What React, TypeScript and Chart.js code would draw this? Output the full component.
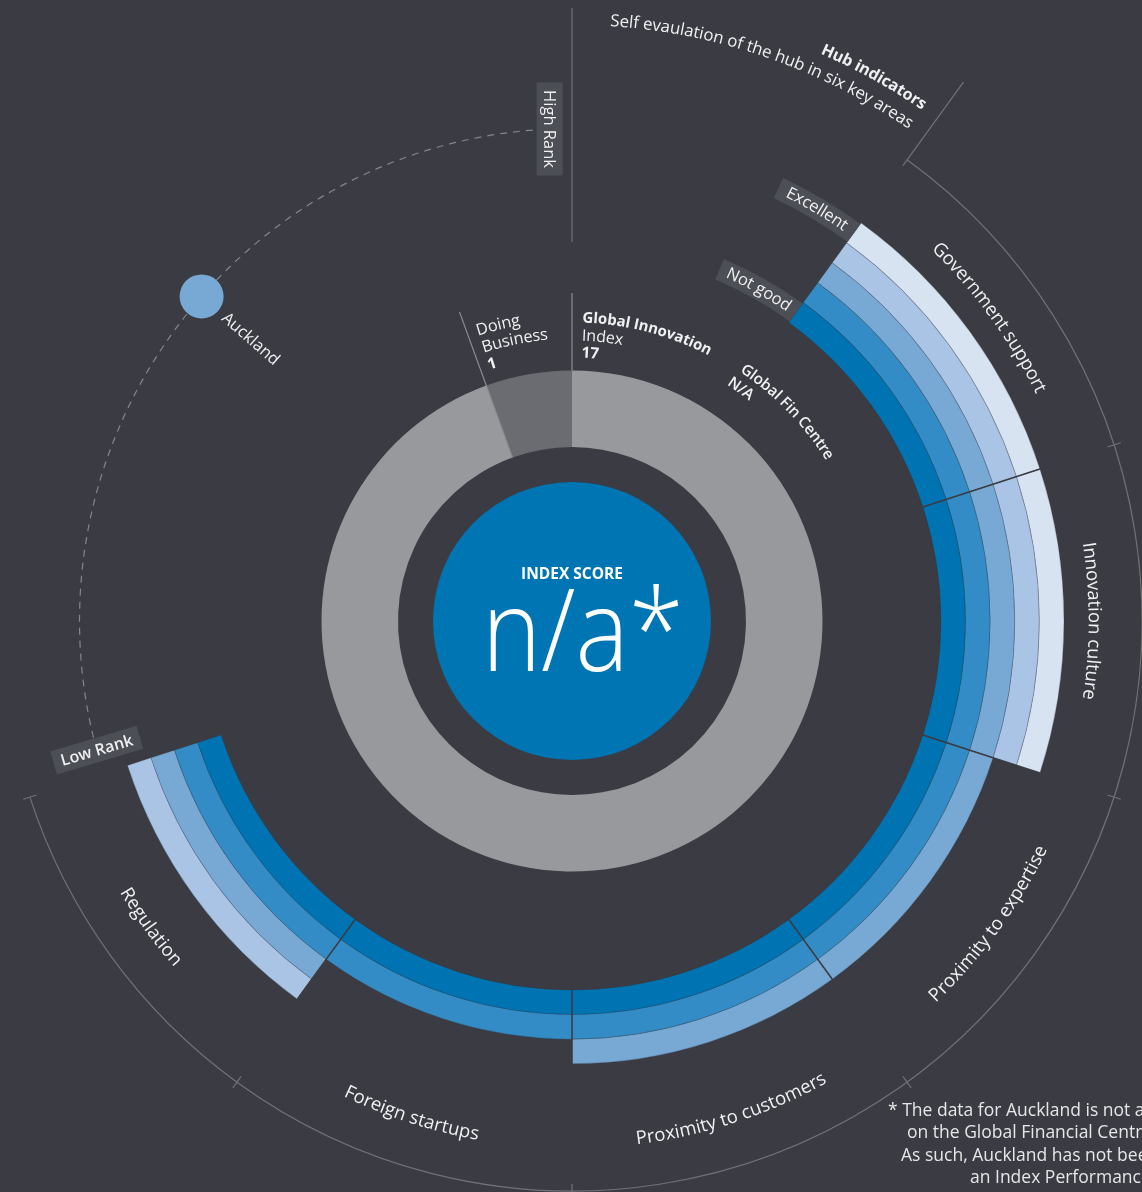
import { useEffect, useRef } from 'react';
import { Chart, registerables } from 'chart.js';
Chart.register(...registerables);

// ---------------- data ----------------
const hubIndicators = [
  'Government support',
  'Innovation culture',
  'Proximity to expertise',
  'Proximity to customers',
  'Foreign startups',
  'Regulation',
];
const hubRatings = [5, 5, 3, 3, 2, 4]; // 1 = Not good ... 5 = Excellent
const ratingScaleLabels = ['Not good', 'Excellent'];
const rankingRingSpans = [340, 20]; // Global Innovation Index arc, Doing Business arc (deg)
const giiLabel = ['Global Innovation', 'Index'];
const giiValue = '17';
const doingBusinessLabel = ['Doing', 'Business'];
const doingBusinessValue = '1';
const finCentreLabel = 'Global Fin Centre';
const finCentreValue = 'N/A';
const indexScoreTitle = 'INDEX SCORE';
const indexScore = 'n/a*';
const cityName = 'Auckland';
const cityRankPosition = 0.55; // 0 = low rank, 1 = high rank
const rankScaleLabels = ['Low Rank', 'High Rank'];
const hubTitle = 'Hub indicators';
const hubSubtitle = 'Self evaulation of the hub in six key areas';
const footnoteLines = [
  '* The data for Auckland is not available',
  'on the Global Financial Centres Index.',
  'As such, Auckland has not been given',
  'an Index Performance score.',
];

// ---------------- style ----------------
const BG = '#3b3c43';
const FONT = '"Open Sans", "Noto Sans", sans-serif';
const bandColors = ['#0074b3', '#338cc5', '#78a9d4', '#a9c4e4', '#d8e3f2'];
const greyColors = ['#98999d', '#6a6c71'];
const TEXT = '#f0f0f2';
const BOX = '#4d4f56';
const LINE = '#717278';
const D2R = Math.PI / 180;

function polar(cx: number, cy: number, r: number, deg: number): [number, number] {
  return [cx + r * Math.sin(deg * D2R), cy - r * Math.cos(deg * D2R)];
}
const toDeg = (rad: number) => rad / D2R + 90;

function arcText(
  ctx: CanvasRenderingContext2D, text: string, cx: number, cy: number, r: number, deg: number,
  o: { cw: boolean; align: 'center' | 'start' | 'end'; font: string; color?: string; spacing?: number }
) {
  ctx.save();
  ctx.font = o.font;
  ctx.fillStyle = o.color || TEXT;
  ctx.textAlign = 'center';
  ctx.textBaseline = 'middle';
  const chars = [...text];
  const sp = o.spacing || 0;
  const widths = chars.map((c) => ctx.measureText(c).width + sp);
  const total = widths.reduce((a, b) => a + b, 0);
  const totalDeg = total / r / D2R;
  const dir = o.cw ? 1 : -1;
  let start = deg;
  if (o.align === 'center') start = deg - (dir * totalDeg) / 2;
  else if (o.align === 'end') start = deg - dir * totalDeg;
  let acc = 0;
  chars.forEach((c, i) => {
    const a = start + (dir * (acc + widths[i] / 2)) / r / D2R;
    const [x, y] = polar(cx, cy, r, a);
    ctx.save();
    ctx.translate(x, y);
    ctx.rotate((o.cw ? a : a - 180) * D2R);
    ctx.fillText(c, 0, 0);
    ctx.restore();
    acc += widths[i];
  });
  ctx.restore();
}

function rotBox(ctx: CanvasRenderingContext2D, x: number, y: number, len: number, thick: number, rot: number, text: string, font: string) {
  ctx.save();
  ctx.translate(x, y);
  ctx.rotate(rot * D2R);
  ctx.fillStyle = BOX;
  ctx.fillRect(-len / 2, -thick / 2, len, thick);
  ctx.fillStyle = TEXT;
  ctx.font = font;
  ctx.textAlign = 'center';
  ctx.textBaseline = 'middle';
  ctx.fillText(text, 0, 1);
  ctx.restore();
}

const overlay = {
  id: 'overlay',
  afterDatasetsDraw(chart: any) {
    const ctx: CanvasRenderingContext2D = chart.ctx;
    const outerArcs = chart.getDatasetMeta(0).data as any[];
    const innerArcs = chart.getDatasetMeta(4).data as any[];
    const greyArcs = chart.getDatasetMeta(6).data as any[];
    const cx = outerArcs[0].x;
    const cy = outerArcs[0].y;
    const bandOut = outerArcs[0].outerRadius;
    const bandIn = innerArcs[0].innerRadius;
    const bw = (bandOut - bandIn) / 5;
    const greyOut = greyArcs[0].outerRadius;
    const greyIn = greyArcs[0].innerRadius;

    // segment separators
    ctx.save();
    ctx.strokeStyle = BG;
    ctx.lineWidth = 1.5;
    for (let j = 1; j < hubIndicators.length; j++) {
      const a = outerArcs[j].startAngle;
      const lv = Math.max(hubRatings[j - 1], hubRatings[j]);
      ctx.beginPath();
      ctx.moveTo(cx + bandIn * Math.cos(a), cy + bandIn * Math.sin(a));
      ctx.lineTo(cx + (bandIn + bw * lv) * Math.cos(a), cy + (bandIn + bw * lv) * Math.sin(a));
      ctx.stroke();
    }
    ctx.restore();

    // outer bracket arc with ticks
    const R = 570;
    const a0 = outerArcs[0].startAngle;
    const a1 = outerArcs[outerArcs.length - 1].endAngle;
    ctx.save();
    ctx.strokeStyle = LINE;
    ctx.lineWidth = 1.2;
    ctx.beginPath();
    ctx.arc(cx, cy, R, a0, a1);
    ctx.stroke();
    const tickAngles = outerArcs.map((e) => e.startAngle).concat([a1]);
    tickAngles.forEach((a, i) => {
      const rIn = R - 7;
      const rOut = i === 0 ? 666 : R + 7;
      ctx.beginPath();
      ctx.moveTo(cx + rIn * Math.cos(a), cy + rIn * Math.sin(a));
      ctx.lineTo(cx + rOut * Math.cos(a), cy + rOut * Math.sin(a));
      ctx.stroke();
    });
    // top vertical line
    ctx.beginPath();
    ctx.moveTo(cx, cy - 613);
    ctx.lineTo(cx, cy - 379);
    ctx.stroke();
    // ranking ring dividers
    ctx.strokeStyle = '#8c8d92';
    ctx.lineWidth = 1.2;
    ctx.beginPath();
    ctx.moveTo(cx, cy - greyOut);
    ctx.lineTo(cx, cy - 328);
    ctx.stroke();
    const dbDeg = toDeg(greyArcs[1].startAngle);
    const [dx0, dy0] = polar(cx, cy, greyIn, dbDeg);
    const [dx1, dy1] = polar(cx, cy, 329, dbDeg);
    ctx.beginPath();
    ctx.moveTo(dx0, dy0);
    ctx.lineTo(dx1, dy1);
    ctx.stroke();
    ctx.restore();

    // hub category labels
    outerArcs.forEach((e, i) => {
      const mid = toDeg((e.startAngle + e.endAngle) / 2);
      const cw = mid < 100;
      arcText(ctx, hubIndicators[i], cx, cy, 522, mid, { cw, align: 'center', font: `400 18.5px ${FONT}` });
    });

    // hub title
    const segStart = toDeg(a0);
    arcText(ctx, hubSubtitle, cx, cy, 601, segStart - 1.6, { cw: true, align: 'end', font: `400 16.8px ${FONT}` });
    arcText(ctx, hubTitle, cx, cy, 624, segStart - 1.6, { cw: true, align: 'end', font: `700 16px ${FONT}` });

    // Not good / Excellent boxes
    const scaleLevels = [1, 5];
    scaleLevels.forEach((lv, k) => {
      const rm = bandIn + bw * (lv - 0.5);
      const L = 88;
      const spanDeg = L / rm / D2R;
      const aEnd = a0;
      const aStart = a0 - spanDeg * D2R;
      ctx.save();
      ctx.fillStyle = BOX;
      ctx.beginPath();
      ctx.arc(cx, cy, rm + 11, aStart, aEnd);
      ctx.arc(cx, cy, rm - 11, aEnd, aStart, true);
      ctx.closePath();
      ctx.fill();
      ctx.restore();
      arcText(ctx, ratingScaleLabels[k], cx, cy, rm, toDeg(a0) - spanDeg / 2, { cw: true, align: 'center', font: `400 16.5px ${FONT}` });
    });

    // ranking ring labels
    const gStart = toDeg(greyArcs[0].startAngle) + 2;
    arcText(ctx, giiLabel[0], cx, cy, 303, gStart, { cw: true, align: 'start', font: `700 15px ${FONT}` });
    arcText(ctx, giiLabel[1], cx, cy, 285, gStart, { cw: true, align: 'start', font: `400 16px ${FONT}` });
    arcText(ctx, giiValue, cx, cy, 268, gStart, { cw: true, align: 'start', font: `700 15.5px ${FONT}` });
    const dStart = dbDeg + 1.8;
    arcText(ctx, doingBusinessLabel[0], cx, cy, 305, dStart, { cw: true, align: 'start', font: `400 16.3px ${FONT}` });
    arcText(ctx, doingBusinessLabel[1], cx, cy, 287, dStart, { cw: true, align: 'start', font: `400 16.3px ${FONT}` });
    arcText(ctx, doingBusinessValue, cx, cy, 269, dStart, { cw: true, align: 'start', font: `700 15.5px ${FONT}` });
    arcText(ctx, finCentreLabel, cx, cy, 305, 33.9, { cw: true, align: 'start', font: `600 15.3px ${FONT}` });
    arcText(ctx, finCentreValue, cx, cy, 287, 33.2, { cw: true, align: 'start', font: `600 15.3px ${FONT}` });

    // rank scale (dashed)
    const RR = 492.5;
    const lowDeg = 254.8;
    const highDeg = 357.4;
    ctx.save();
    ctx.strokeStyle = '#85868c';
    ctx.lineWidth = 1.2;
    ctx.setLineDash([7, 6]);
    ctx.beginPath();
    ctx.arc(cx, cy, RR, (lowDeg - 90) * D2R, (highDeg - 90) * D2R);
    ctx.stroke();
    ctx.restore();
    const [hx, hy] = polar(cx, cy, RR, highDeg);
    rotBox(ctx, hx, hy, 93, 26, 90, rankScaleLabels[1], `400 16.5px ${FONT}`);
    const [lx, ly] = polar(cx, cy, RR, lowDeg);
    rotBox(ctx, lx, ly, 90, 24, -16.5, rankScaleLabels[0], `600 16px ${FONT}`);

    const cityDeg = lowDeg + cityRankPosition * (highDeg - lowDeg);
    const [px, py] = polar(cx, cy, RR, cityDeg);
    ctx.save();
    ctx.fillStyle = '#78a9d4';
    ctx.beginPath();
    ctx.arc(px, py, 22, 0, Math.PI * 2);
    ctx.fill();
    const [tx, ty] = polar(cx, cy, 463, cityDeg);
    ctx.translate(tx, ty);
    ctx.rotate((cityDeg - 270) * D2R);
    ctx.fillStyle = TEXT;
    ctx.font = `400 16.5px ${FONT}`;
    ctx.textAlign = 'left';
    ctx.textBaseline = 'middle';
    ctx.fillText(cityName, 0, 0);
    ctx.restore();

    // centre score
    ctx.save();
    ctx.fillStyle = '#ffffff';
    ctx.textAlign = 'center';
    ctx.textBaseline = 'middle';
    ctx.font = `700 15.5px ${FONT}`;
    ctx.fillText(indexScoreTitle, cx, cy - 46);
    ctx.textBaseline = 'alphabetic';
    ctx.font = `300 114px ${FONT}`;
    ctx.translate(cx + 11, cy + 50);
    ctx.scale(0.88, 1);
    ctx.fillText(indexScore, 0, 0);
    ctx.restore();

    // footnote
    ctx.save();
    ctx.fillStyle = '#e6e6e8';
    ctx.font = `400 17.5px ${FONT}`;
    ctx.textAlign = 'left';
    ctx.textBaseline = 'middle';
    const fx = [888, 907, 901, 970];
    footnoteLines.forEach((t, i) => ctx.fillText(t, fx[i], 1111 + i * 22.3));
    ctx.restore();
  },
};

export default function App() {
  const ref = useRef<HTMLCanvasElement>(null);
  useEffect(() => {
    const canvas = ref.current as HTMLCanvasElement;
    const bandBorder = 'rgba(40,44,54,0.22)';
    const levels = [5, 4, 3, 2, 1];
    const bandSets = levels.map((lv) => ({
      data: hubIndicators.map(() => 1),
      rotation: 36,
      circumference: 216,
      weight: 24.6,
      backgroundColor: hubRatings.map((r) => (r >= lv ? bandColors[lv - 1] : 'rgba(0,0,0,0)')),
      borderColor: hubRatings.map((r) => (r >= lv ? bandBorder : 'rgba(0,0,0,0)')),
      borderWidth: 1,
    }));
    const chart = new Chart(canvas, {
      type: 'doughnut',
      data: {
        labels: hubIndicators,
        datasets: [
          ...bandSets,
          { data: [1], weight: 118.5, backgroundColor: ['rgba(0,0,0,0)'], borderWidth: 0 },
          { data: rankingRingSpans, weight: 76.5, rotation: 0, circumference: 360, backgroundColor: greyColors, borderWidth: 0 },
          { data: [1], weight: 35, backgroundColor: ['rgba(0,0,0,0)'], borderWidth: 0 },
          { data: [1], weight: 139, backgroundColor: ['#0075b4'], borderWidth: 0 },
        ] as any,
      },
      options: {
        responsive: false,
        maintainAspectRatio: false,
        animation: false,
        events: [],
        radius: 492,
        cutout: 0,
        layout: { padding: { top: 50, left: 2, right: 0, bottom: 0 } },
        plugins: { legend: { display: false }, tooltip: { enabled: false } },
      } as any,
      plugins: [overlay],
    });
    return () => chart.destroy();
  }, []);
  return (
    <div style={{ position: 'absolute', left: 0, top: 0, width: 1142, height: 1192, background: BG, overflow: 'hidden' }}>
      <canvas ref={ref} width={1142} height={1192} style={{ display: 'block' }} />
    </div>
  );
}
